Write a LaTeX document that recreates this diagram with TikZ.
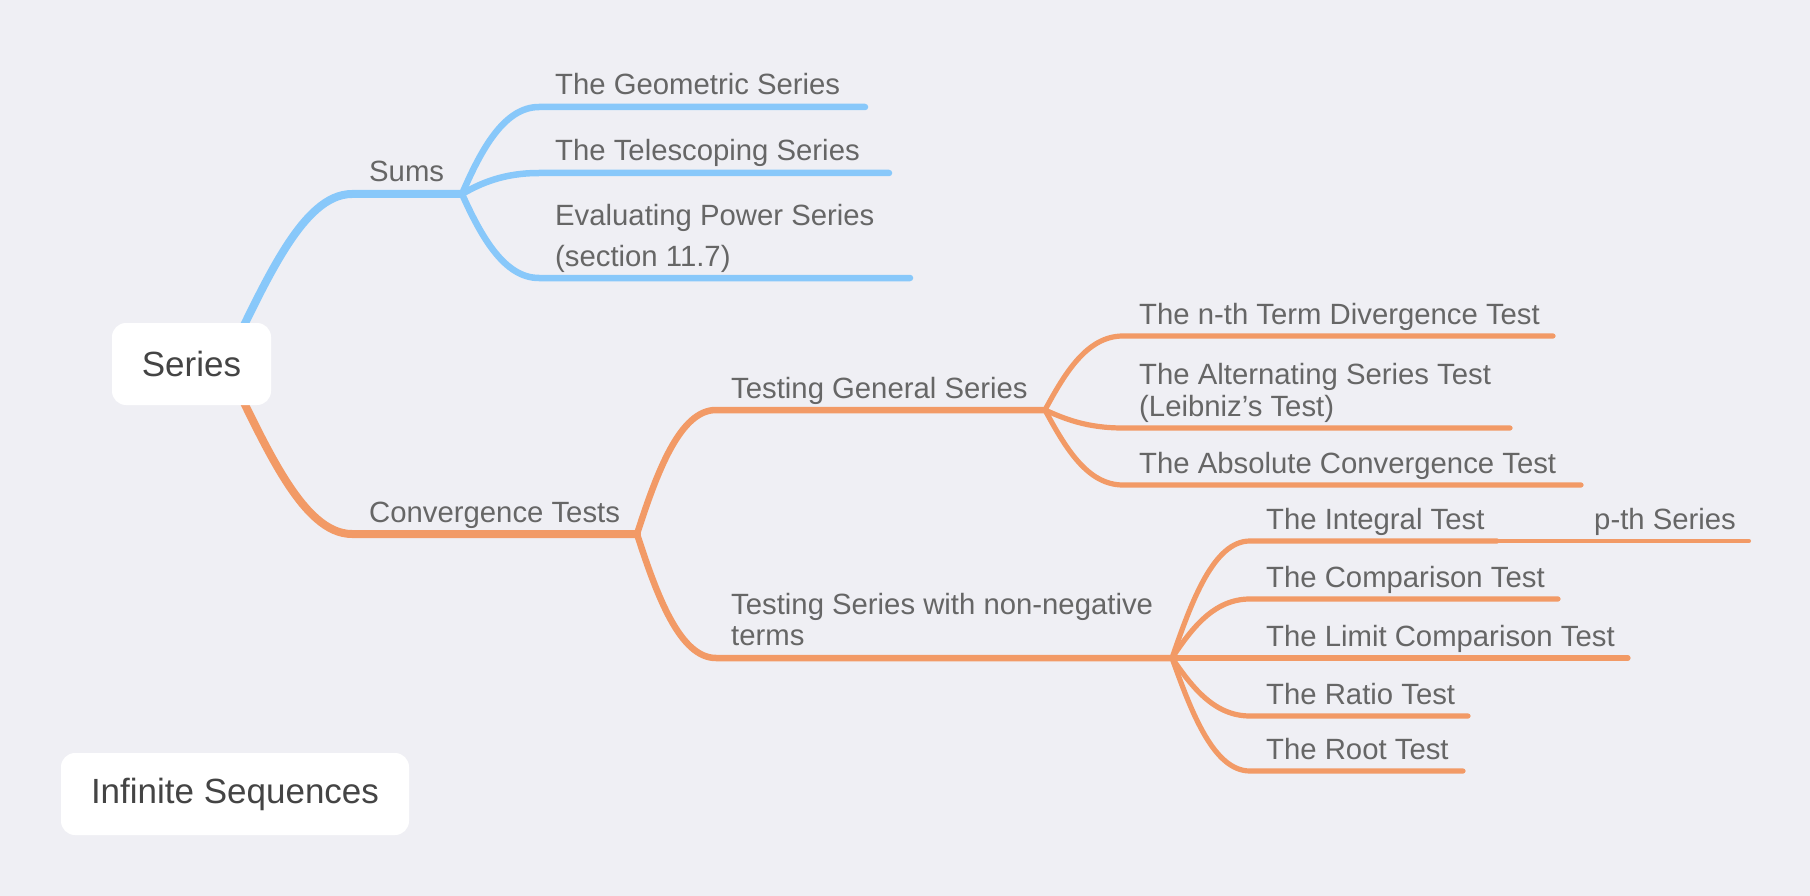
\documentclass[tikz,border=0pt]{standalone}
\usepackage{fontspec}
\setmainfont{Liberation Sans}
\definecolor{bg}{RGB}{239,239,244}
\definecolor{sky}{RGB}{136,200,250}
\definecolor{peach}{RGB}{242,154,102}
\definecolor{subtxt}{RGB}{102,102,102}
\definecolor{toptxt}{RGB}{68,68,68}
\tikzset{
  lvlone/.style={line width=8pt, line cap=round},
  lvltwo/.style={line width=6.5pt, line cap=round},
  lvlthree/.style={line width=5.2pt, line cap=round},
  lvlfour/.style={line width=4pt, line cap=round},
  lbl/.style={inner sep=0pt, anchor=base west, text=subtxt, font=\fontsize{29.3}{32}\selectfont, align=left},
  topicbox/.style={fill=white, rounded corners=14pt, text=toptxt, font=\fontsize{35}{40}\selectfont, inner sep=0pt}
}
\begin{document}
\begin{tikzpicture}[x=1pt,y=-1pt]
\fill[bg] (0,0) rectangle (1810,896);
\useasboundingbox (0,0) rectangle (1810,896);

% coordinates
\coordinate (sroot) at (225,364);
\coordinate (sumsL) at (352,194); \coordinate (sumsJ) at (462,194);
\coordinate (convL) at (352,534); \coordinate (convJ) at (637,534);
\coordinate (geoL) at (539,107); \coordinate (geoR) at (865,107);
\coordinate (telL) at (539,173); \coordinate (telR) at (889,173);
\coordinate (evaL) at (539,278); \coordinate (evaR) at (910,278);
\coordinate (genL) at (716,410); \coordinate (genJ) at (1045,410);
\coordinate (nonL) at (716,658); \coordinate (nonJ) at (1172,658);
\coordinate (nthL) at (1123,336); \coordinate (nthR) at (1553,336);
\coordinate (altL) at (1123,428); \coordinate (altR) at (1510,428);
\coordinate (absL) at (1123,485); \coordinate (absR) at (1581,485);
\coordinate (intL) at (1250,541); \coordinate (intR) at (1497,541);
\coordinate (pthR) at (1749,541);
\coordinate (cmpL) at (1250,599); \coordinate (cmpR) at (1558,599);
\coordinate (limR) at (1628,658);
\coordinate (ratL) at (1250,716); \coordinate (ratR) at (1468,716);
\coordinate (rooL) at (1250,771); \coordinate (rooR) at (1463,771);

% blue branch
\draw[sky, lvlone] (sroot) .. controls +(40,-80) and +(-50,0) .. (sumsL) -- (sumsJ);
\draw[sky, lvltwo] (sumsJ) .. controls +(19,-44) and +(-35,0) .. (geoL) -- (geoR);
\draw[sky, lvltwo] (sumsJ) .. controls +(19,-11) and +(-35,0) .. (telL) -- (telR);
\draw[sky, lvltwo] (sumsJ) .. controls +(19,42) and +(-35,0) .. (evaL) -- (evaR);

% orange branch
\draw[peach, lvlone] (sroot) .. controls +(40,80) and +(-50,0) .. (convL) -- (convJ);
\draw[peach, lvltwo] (convJ) .. controls +(20,-62) and +(-36,0) .. (genL) -- (genJ);
\draw[peach, lvltwo] (convJ) .. controls +(20,62) and +(-36,0) .. (nonL) -- (nonJ);
\draw[peach, lvlthree] (genJ) .. controls +(20,-37) and +(-36,0) .. (nthL) -- (nthR);
\draw[peach, lvlthree] (genJ) .. controls +(20,9) and +(-36,0) .. (altL) -- (altR);
\draw[peach, lvlthree] (genJ) .. controls +(20,37) and +(-36,0) .. (absL) -- (absR);
\draw[peach, lvlthree] (nonJ) .. controls +(20,-58) and +(-36,0) .. (intL) -- (intR);
\draw[peach, lvlfour] (intR) -- (pthR);
\draw[peach, lvlthree] (nonJ) .. controls +(20,-30) and +(-36,0) .. (cmpL) -- (cmpR);
\draw[peach, lvlthree] (nonJ) -- (limR);
\draw[peach, lvlthree] (nonJ) .. controls +(20,29) and +(-36,0) .. (ratL) -- (ratR);
\draw[peach, lvlthree] (nonJ) .. controls +(20,56) and +(-36,0) .. (rooL) -- (rooR);

% topic boxes
\node[topicbox, minimum width=159pt, minimum height=82pt] (series) at (191.5,364) {Series};
\node[topicbox, minimum width=348pt, minimum height=82pt] (infseq) at (235,794) {Infinite Sequences};

% labels (multi-line nodes: base = baseline of last line)
\node[lbl] (sums) at (369,182) {Sums};
\node[lbl] (conv) at (369,522) {Convergence Tests};
\node[lbl] (geo) at (555,95) {The Geometric Series};
\node[lbl] (tel) at (555,161) {The Telescoping Series};
\node[lbl, font=\fontsize{29.3}{41}\selectfont] (eva) at (555,266) {Evaluating Power Series\\(section 11.7)};
\node[lbl] (gen) at (731,398) {Testing General Series};
\node[lbl, font=\fontsize{29.3}{31}\selectfont] (non) at (731,645) {Testing Series with non-negative\\terms};
\node[lbl] (nth) at (1139,324) {The n-th Term Divergence Test};
\node[lbl] (alt) at (1139,416) {The Alternating Series Test\\(Leibniz’s Test)};
\node[lbl] (abs) at (1139,473) {The Absolute Convergence Test};
\node[lbl] (int) at (1266,529) {The Integral Test};
\node[lbl] (pth) at (1594,529) {p-th Series};
\node[lbl] (cmp) at (1266,587) {The Comparison Test};
\node[lbl] (lim) at (1266,646) {The Limit Comparison Test};
\node[lbl] (rat) at (1266,704) {The Ratio Test};
\node[lbl] (roo) at (1266,759) {The Root Test};
\end{tikzpicture}
\end{document}
